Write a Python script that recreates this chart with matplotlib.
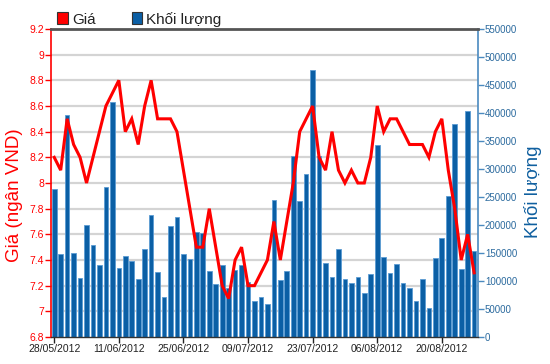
import matplotlib
matplotlib.use("Agg")
import matplotlib.pyplot as plt
from matplotlib.patches import Rectangle
import numpy as np
import pandas as pd

plt.rcParams['font.family'] = ['Liberation Sans', 'DejaVu Sans']

# ---- data ----
start_date = "2012-05-28"
n_days = 66
dates = pd.bdate_range(start_date, periods=n_days)
date_labels = [d.strftime("%d/%m/%Y") for d in dates]

price = [8.2, 8.1, 8.5, 8.3, 8.2, 8.0, 8.2, 8.4, 8.6, 8.7,
         8.8, 8.4, 8.5, 8.3, 8.6, 8.8, 8.5, 8.5, 8.5, 8.4,
         8.1, 7.8, 7.5, 7.5, 7.8, 7.5, 7.2, 7.1, 7.4, 7.5,
         7.2, 7.2, 7.3, 7.4, 7.7, 7.4, 7.7, 8.0, 8.4, 8.5,
         8.6, 8.2, 8.1, 8.4, 8.1, 8.0, 8.1, 8.0, 8.0, 8.2,
         8.6, 8.4, 8.5, 8.5, 8.4, 8.3, 8.3, 8.3, 8.2, 8.4,
         8.5, 8.1, 7.8, 7.4, 7.6, 7.3]

volume = [265000, 148000, 397000, 150000, 106000, 200000, 165000, 128000, 267000, 419000,
          123000, 145000, 135000, 104000, 157000, 218000, 116000, 71000, 198000, 215000,
          148000, 139000, 187000, 185000, 117000, 95000, 128000, 87000, 120000, 128000,
          99000, 64000, 71000, 59000, 245000, 101000, 117000, 324000, 243000, 291000,
          477000, 324000, 132000, 108000, 158000, 104000, 97000, 108000, 79000, 112000,
          342000, 143000, 114000, 130000, 97000, 88000, 64000, 104000, 51000, 141000,
          176000, 251000, 381000, 121000, 404000, 154000]

price_ticks = [6.8, 7.0, 7.2, 7.4, 7.6, 7.8, 8.0, 8.2, 8.4, 8.6, 8.8, 9.0, 9.2]
volume_ticks = list(range(0, 550001, 50000))
tick_every = 10

legend_labels = ["Giá", "Khối lượng"]
left_label = "Giá (ngân VND)"
right_label = "Khối lượng"

# ---- style ----
RED = "#ff0000"
BAR = "#0b5fa5"
BAR_EDGE = "#5b9bd3"
RAXIS = "#4a8ac0"
RTEXT = "#2b6a9e"

fig = plt.figure(figsize=(5.5, 3.64), dpi=100)
ax = fig.add_axes([51/550, 1-337/364, (478-51)/550, (337-29)/364])
ax2 = ax.twinx()

x = np.arange(n_days)

# price axis (left)
ax.set_ylim(price_ticks[0], price_ticks[-1])
ax.set_yticks(price_ticks)
ax.set_yticklabels(["%g" % t for t in price_ticks])
for t in price_ticks[1:-1]:
    ax.axhline(t, color="#d4d4d4", lw=1.6, zorder=0)
ax.tick_params(axis='y', colors=RED, labelsize=7.5, length=4, width=1, pad=1)
ax.set_ylabel(left_label, color=RED, fontsize=13.5)
ax.yaxis.set_label_coords(-0.066, 0.46)

# volume axis (right)
ax2.bar(x, volume, width=0.72, color=BAR, edgecolor=BAR_EDGE, linewidth=0.6, zorder=2)
ax2.plot(x, price, color=RED, lw=2.2, transform=ax.transData, zorder=3,
         solid_joinstyle='miter')
ax2.set_ylim(volume_ticks[0], volume_ticks[-1])
ax2.set_yticks(volume_ticks)
ax2.set_yticklabels([str(v) for v in volume_ticks])
ax2.tick_params(axis='y', colors=RAXIS, labelcolor=RTEXT, labelsize=7, length=4, width=1, pad=1)
ax2.set_ylabel(right_label, color="#0f5f9f", fontsize=13.5)
ax2.yaxis.set_label_coords(1.108, 0.47)

ax.set_xlim(-0.5, 65.6)
ticks = x[::tick_every]
ax.set_xticks(ticks)
ax.set_xticklabels([date_labels[i] for i in ticks])
ax.tick_params(axis='x', colors="#222222", labelsize=7.5, length=4, width=1, pad=1)

for s in ax.spines.values():
    s.set_visible(False)
for s in ax2.spines.values():
    s.set_visible(False)
ax2.spines['left'].set_visible(True)
ax2.spines['left'].set_color(RED)
ax2.spines['left'].set_linewidth(1.2)
ax2.spines['right'].set_visible(True)
ax2.spines['right'].set_color(RAXIS)
ax2.spines['right'].set_linewidth(1.2)
ax2.spines['top'].set_visible(True)
ax2.spines['top'].set_color("#555555")
ax2.spines['top'].set_linewidth(2)
ax2.spines['bottom'].set_visible(True)
ax2.spines['bottom'].set_color("#333333")
ax2.spines['bottom'].set_linewidth(1)

# legend (manual)
fig.patches.append(Rectangle((57.5/550, 1-24/364), 10.5/550, 12/364, transform=fig.transFigure,
                             facecolor=RED, edgecolor="#333333", linewidth=0.8))
fig.text(72/550, 1-24/364, legend_labels[0], fontsize=11, va='baseline', ha='left', color="#222222")
fig.patches.append(Rectangle((131.5/550, 1-24/364), 10.5/550, 12/364, transform=fig.transFigure,
                             facecolor=BAR, edgecolor="#333333", linewidth=0.8))
fig.text(146/550, 1-24/364, legend_labels[1], fontsize=11, va='baseline', ha='left', color="#222222")

fig.savefig("out.png", dpi=100)
